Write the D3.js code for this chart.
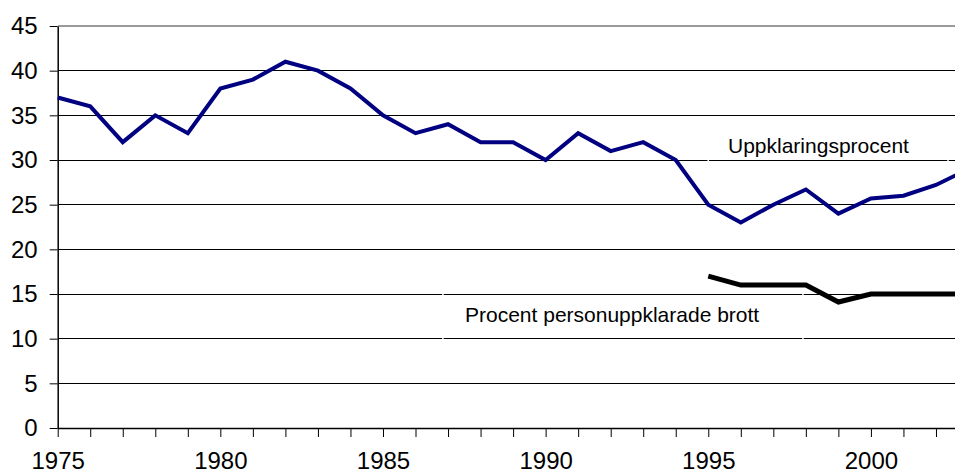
<!DOCTYPE html>
<html>
<head>
<meta charset="utf-8">
<script src="https://cdn.jsdelivr.net/npm/d3@7/dist/d3.min.js"></script>
<style>
  html, body { margin: 0; padding: 0; background: #fff; }
  svg { display: block; }
  text { font-family: "Liberation Sans", Arial, sans-serif; fill: #000; }
</style>
</head>
<body>
<svg id="chart" width="955" height="475"></svg>
<script>
const years = d3.range(1975, 2004);
const uppklaringsprocent = [37, 36, 32, 35, 33, 38, 39, 41, 40, 38, 35, 33, 34, 32, 32, 30, 33, 31, 32, 30, 25, 23, 25, 26.7, 24, 25.7, 26, 27.2, 29];
const personYears = [1995, 1996, 1997, 1998, 1999, 2000, 2001, 2002, 2003];
const personuppklarade = [17, 16, 16, 16, 14.1, 15, 15, 15, 15];
const yTicks = [0, 5, 10, 15, 20, 25, 30, 35, 40, 45];
const xLabelYears = [1975, 1980, 1985, 1990, 1995, 2000];
const seriesLabels = ["Uppklaringsprocent", "Procent personuppklarade brott"];

const svg = d3.select("#chart");
const W = 955;
const x = d3.scaleLinear().domain([1975, 2003]).range([57.7, 968.5]);
const y = d3.scaleLinear().domain([0, 45]).range([428, 26]);

// gridlines
svg.append("g").selectAll("line").data(yTicks.filter(d => d > 0)).join("line")
  .attr("x1", x(1975)).attr("x2", W)
  .attr("y1", d => y(d)).attr("y2", d => y(d))
  .attr("stroke", d => d === 45 ? "#9a9a9a" : "#000")
  .attr("stroke-width", d => d === 45 ? 2 : 1)
  .attr("shape-rendering", "crispEdges");

// label boxes (white borders that cut grid lines)
svg.append("rect").attr("x", x(1995.0)).attr("y", y(33)).attr("width", x(2002.37) - x(1995.0)).attr("height", y(27) - y(33))
  .attr("fill", "none").attr("stroke", "#fff").attr("stroke-width", 1.5);
svg.append("rect").attr("x", x(1986.84)).attr("y", y(15.7)).attr("width", x(1997.91) - x(1986.84)).attr("height", y(7) - y(15.7))
  .attr("fill", "none").attr("stroke", "#fff").attr("stroke-width", 1.5);

// y axis
const yAxis = d3.axisLeft(y).tickValues(yTicks).tickSize(8).tickPadding(12).tickSizeOuter(0);
const gy = svg.append("g").attr("transform", `translate(${x(1975)},0)`).call(yAxis);
gy.select(".domain").attr("stroke", "#000").attr("stroke-width", 1.5);
gy.selectAll(".tick line").attr("stroke", "#000");
gy.selectAll("text").style("font-size", "24px").attr("font-family", "Liberation Sans, Arial, sans-serif");

// x axis
const xAxis = d3.axisBottom(x).tickValues(years).tickSize(9).tickSizeOuter(0).tickFormat(d => xLabelYears.includes(d) ? d : "").tickPadding(15);
const gx = svg.append("g").attr("transform", `translate(0,${y(0)})`).call(xAxis);
gx.select(".domain").attr("stroke", "#000").attr("stroke-width", 1.5);
gx.selectAll(".tick line").attr("stroke", "#000");
gx.selectAll("text").style("font-size", "24px").attr("font-family", "Liberation Sans, Arial, sans-serif");

// lines
const lineU = d3.line().x((d, i) => x(years[i])).y(d => y(d));
svg.append("path").datum(uppklaringsprocent).attr("d", lineU)
  .attr("fill", "none").attr("stroke", "#000080").attr("stroke-width", 4).attr("stroke-linejoin", "miter");

const lineP = d3.line().x((d, i) => x(personYears[i])).y(d => y(d));
svg.append("path").datum(personuppklarade).attr("d", lineP)
  .attr("fill", "none").attr("stroke", "#000").attr("stroke-width", 5).attr("stroke-linejoin", "miter");

// series labels
svg.append("text").attr("x", 728).attr("y", 153).style("font-size", "21px").text(seriesLabels[0]);
svg.append("text").attr("x", 465).attr("y", 322).style("font-size", "21px").text(seriesLabels[1]);
</script>
</body>
</html>
